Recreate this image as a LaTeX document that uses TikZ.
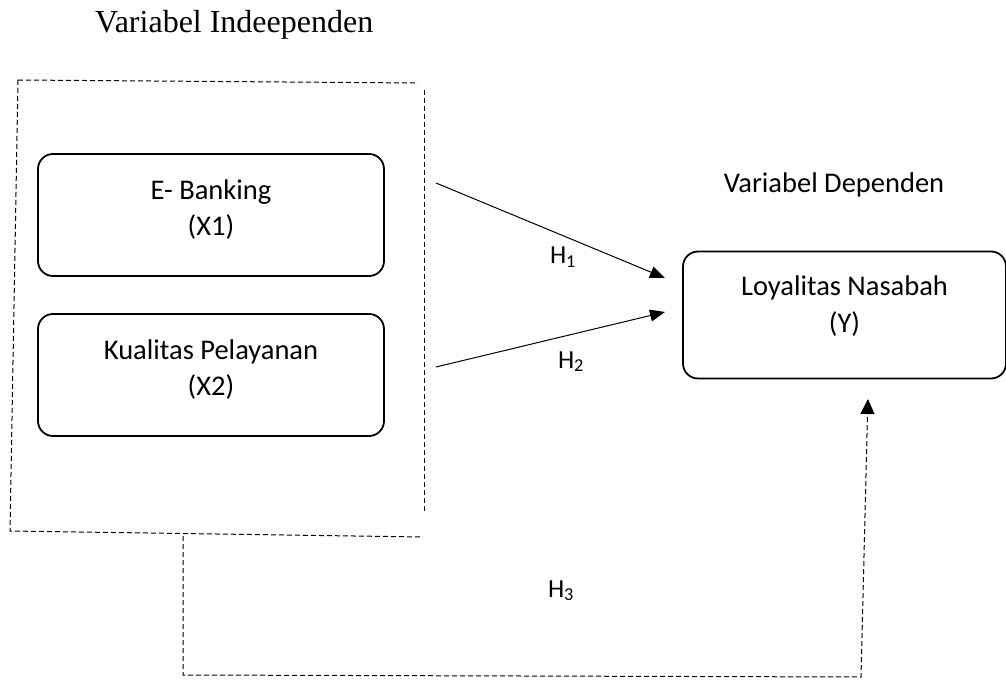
\documentclass[tikz,border=0pt]{standalone}
\usepackage{fontspec}
\setmainfont{Liberation Serif}
\newfontfamily\calib{Carlito}
\usetikzlibrary{arrows.meta,calc}
\tikzset{
  varbox/.style={draw=black, line width=1.8pt, rounded corners=15pt, minimum width=346pt, minimum height=122pt, inner sep=0pt},
  lbl/.style={font=\calib\fontsize{28.5}{34}\selectfont, inner sep=0pt, anchor=base},
  hyp/.style={font=\calib\fontsize{26}{30}\selectfont, inner sep=0pt, anchor=base},
  arr/.style={line width=1pt, -{Triangle[length=15pt,width=12pt]}},
  dsh/.style={line width=1pt, dash pattern=on 5pt off 3pt},
}
\begin{document}
\begin{tikzpicture}[x=1pt,y=-1pt]
\useasboundingbox (0,0) rectangle (1006,684);
% title
\node[font=\fontsize{32}{38}\selectfont, inner sep=0pt, anchor=base west] (tind) at (95,33) {Variabel Indeependen};
% dashed group box
\draw[dsh] (18,80) -- (418,83);
\draw[dsh] (424,90) -- (424,511);
\draw[dsh] (18,80) -- (10,531) -- (423,537);
\coordinate (gb) at (183,536);
% boxes
\node[varbox] (x1) at (211,215) {};
\node[lbl] (x1a) at ($(x1.north)+(0,46)$) {E- Banking};
\node[lbl] (x1b) at ($(x1.north)+(0,82)$) {(X1)};
\node[varbox] (x2) at (211,375) {};
\node[lbl] (x2a) at ($(x2.north)+(0,46)$) {Kualitas Pelayanan};
\node[lbl] (x2b) at ($(x2.north)+(0,82)$) {(X2)};
\node[varbox, minimum width=323pt, minimum height=127pt] (y) at (844.5,315) {};
\node[lbl] (ya) at ($(y.north)+(0,45)$) {Loyalitas Nasabah};
\node[lbl] (yb) at ($(y.north)+(0,82)$) {(Y)};
\node[lbl] (tdep) at (834,193) {Variabel Dependen};
% arrows
\coordinate (h1s) at (436,183);
\coordinate (h1e) at (665,278);
\coordinate (h2s) at (436,367);
\coordinate (h2e) at (665,312);
\draw[arr] (h1s) -- (h1e);
\draw[arr] (h2s) -- (h2e);
\node[hyp] (h1) at (563,264) {H\textsubscript{1}};
\node[hyp] (h2) at (571,368) {H\textsubscript{2}};
\node[hyp] (h3) at (561,597) {H\textsubscript{3}};
% H3 dashed connector
\coordinate (ytip) at (868,399);
\draw[dsh] (gb) -- (183,675) -- (861,677) -- (867.5,414);
\draw[line width=1pt, -{Triangle[length=15pt,width=14pt]}] (867.5,414) -- (ytip);
\end{tikzpicture}
\end{document}
